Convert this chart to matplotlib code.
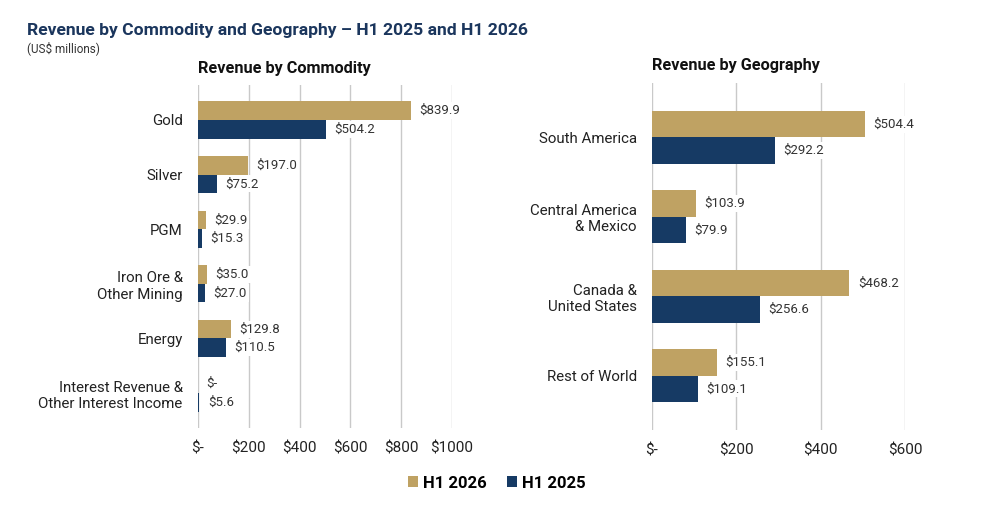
import matplotlib
matplotlib.use("Agg")
import matplotlib.pyplot as plt
import numpy as np
from matplotlib.patches import Patch

plt.rcParams['font.family'] = ['Roboto', 'DejaVu Sans']

commodities = ["Gold", "Silver", "PGM", "Iron Ore &\nOther Mining", "Energy",
               "Interest Revenue &\nOther Interest Income"]
comm_2026 = [839.9, 197.0, 29.9, 35.0, 129.8, 0.0]
comm_2025 = [504.2, 75.2, 15.3, 27.0, 110.5, 5.6]

geographies = ["South America", "Central America\n& Mexico", "Canada &\nUnited States", "Rest of World"]
geo_2026 = [504.4, 103.9, 468.2, 155.1]
geo_2025 = [292.2, 79.9, 256.6, 109.1]

comm_ticks = [0, 200, 400, 600, 800, 1000]
comm_ticklabels = ["$-", "$200", "$400", "$600", "$800", "$1000"]
geo_ticks = [0, 200, 400, 600]
geo_ticklabels = ["$-", "$200", "$400", "$600"]

GOLD = "#BFA263"
NAVY = "#163A64"
GRID = "#C9C9C9"
TXT = "#222222"

fig = plt.figure(figsize=(9.91, 5.29), dpi=100)

fig.text(27/991, 1-30/529, "Revenue by Commodity and Geography \u2013 H1 2025 and H1 2026",
         fontsize=12.6, fontweight='bold', color="#1B365D", va='center', ha='left')
fig.text(27/991, 1-48/529, "(US$ millions)", fontsize=8.5, color="#333333", va='center', ha='left')


def fmt(v):
    return "$-" if v == 0 else f"${v:,.1f}"


def draw(ax, cats, v26, v25, ticks, ticklabels, xmax, h, margin, title):
    y = np.arange(len(cats))
    ax.barh(y - h/2, v26, height=h, color=GOLD, zorder=3)
    ax.barh(y + h/2, v25, height=h, color=NAVY, zorder=3)
    for yi, a, b in zip(y, v26, v25):
        for val, yy in ((a, yi - h/2), (b, yi + h/2)):
            ax.annotate(fmt(val), xy=(val, yy), xytext=(6, 0), textcoords='offset points',
                        va='center', ha='left', fontsize=9.5, color="#333333", zorder=4,
                        bbox=dict(facecolor='white', edgecolor='none', pad=1.5))
    ax.set_xlim(0, xmax)
    ax.set_ylim(len(cats) - 1 + margin, -margin)
    ax.set_yticks(y)
    ax.set_yticklabels(cats, fontsize=10.8, color=TXT, ha='right')
    ax.set_xticks(ticks)
    ax.set_xticklabels(ticklabels, fontsize=11, color=TXT)
    ax.tick_params(axis='both', length=0)
    ax.tick_params(axis='y', pad=11)
    ax.tick_params(axis='x', pad=10)
    for s in ax.spines.values():
        s.set_visible(False)
    ax.grid(axis='x', color=GRID, linewidth=1, zorder=0)
    ax.set_axisbelow(True)
    ax.set_title(title, loc='left', fontsize=11.7, fontweight='bold', color="#111111", pad=9)


ax1 = fig.add_axes([198/991, 1-428/529, 254/991, 343/529])
draw(ax1, commodities, comm_2026, comm_2025, comm_ticks, comm_ticklabels, 1000,
     0.34, 0.64, "Revenue by Commodity")

ax2 = fig.add_axes([652/991, 1-430/529, 253/991, 347/529])
draw(ax2, geographies, geo_2026, geo_2025, geo_ticks, geo_ticklabels, 600,
     0.333, 0.685, "Revenue by Geography")

handles = [Patch(facecolor=GOLD, label="H1 2026"), Patch(facecolor=NAVY, label="H1 2025")]
fig.legend(handles=handles, loc='center', bbox_to_anchor=(497/991, 1-483/529), ncol=2,
           frameon=False, prop={'weight': 'bold', 'size': 12}, handlelength=0.6,
           handleheight=0.6, handletextpad=0.3, columnspacing=1.2)

fig.savefig("out.png", dpi=100)
